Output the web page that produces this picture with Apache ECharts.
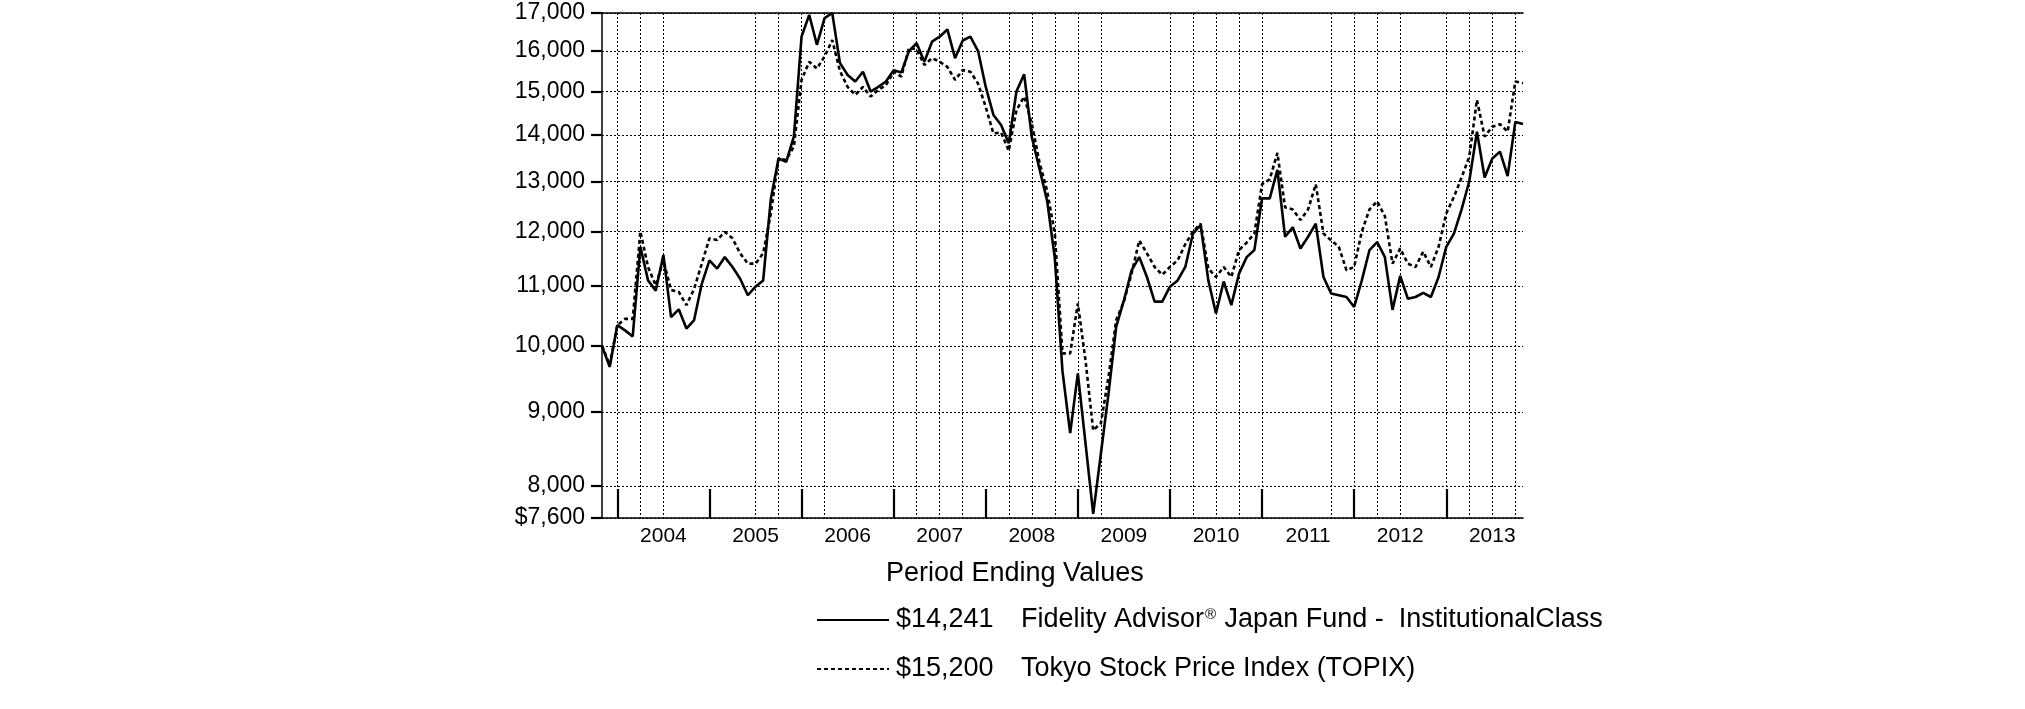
<!DOCTYPE html>
<html>
<head>
<meta charset="utf-8">
<script src="https://cdn.jsdelivr.net/npm/echarts@6/dist/echarts.min.js"></script>
<style>
html,body{margin:0;padding:0;background:#fff;}
#chart{width:2025px;height:709px;}
</style>
</head>
<body>
<div id="chart"></div>
<script>
// ---- data ----
const startYear = 2003, startMonth = 10, nMonths = 121; // Oct 2003 .. Oct 2013 month ends
const fundName = 'Fidelity Advisor® Japan Fund -  InstitutionalClass';
const indexName = 'Tokyo Stock Price Index (TOPIX)';
const fundValues = [
  10000, 9670, 10335, 10250, 10150, 11710, 11100, 10920, 11560, 10470, 10600, 10280,
  10420, 11040, 11460, 11310, 11520, 11340, 11130, 10840, 10990, 11100, 12640, 13480,
  13410, 13960, 16370, 16950, 16160, 16860, 17000, 15700, 15400, 15240, 15480, 15000,
  15110, 15240, 15520, 15460, 16000, 16200, 15730, 16240, 16370, 16560, 15820, 16270,
  16370, 16000, 15110, 14450, 14220, 13810, 15000, 15420, 13950, 13260, 12600, 11500,
  9600, 8700, 9570, 8560, 7650, 8420, 9270, 10310, 10750, 11280, 11520, 11160,
  10730, 10730, 10990, 11100, 11340, 11960, 12120, 11100, 10530, 11080, 10670, 11220,
  11520, 11650, 12650, 12650, 13240, 11900, 12080, 11680, 11900, 12150, 11160, 10870,
  10840, 10810, 10640, 11100, 11650, 11800, 11520, 10590, 11180, 10780, 10810, 10880,
  10810, 11160, 11710, 11960, 12430, 13000, 14070, 13080, 13480, 13630, 13110, 14290,
  14241
];
const indexValues = [
  10000, 9700, 10335, 10440, 10440, 12000, 11340, 11010, 11460, 10930, 10900, 10670,
  10950, 11400, 11870, 11840, 11990, 11870, 11590, 11400, 11400, 11590, 12350, 13480,
  13450, 13740, 15280, 15730, 15560, 15860, 16280, 15500, 15110, 14920, 15110, 14880,
  15040, 15150, 15480, 15360, 16080, 16040, 15650, 15820, 15730, 15600, 15280, 15520,
  15480, 15190, 14630, 14030, 14050, 13650, 14560, 14880, 14250, 13400, 12800, 11960,
  9880, 9880, 10700, 9770, 8740, 8840, 9520, 10420, 10730, 11220, 11830, 11590,
  11340, 11200, 11340, 11460, 11760, 12000, 12150, 11310, 11160, 11340, 11160, 11650,
  11790, 11960, 12940, 13040, 13600, 12470, 12430, 12220, 12430, 12940, 11960, 11830,
  11710, 11280, 11340, 12000, 12430, 12590, 12300, 11400, 11680, 11400, 11340, 11620,
  11340, 11710, 12350, 12680, 13080, 13520, 14800, 13960, 14180, 14240, 14070, 15240,
  15200
];
const yTicks = [7600, 8000, 9000, 10000, 11000, 12000, 13000, 14000, 15000, 16000, 17000];
const yearTickIdx = [2, 14, 26, 38, 50, 62, 74, 86, 98, 110];          // Dec of each year
const yearLabelIdx = [8, 20, 32, 44, 56, 68, 80, 92, 104, 116];        // mid-year label spots
const vGridIdx = [2, 5, 8, 20, 23, 26, 29, 38, 41, 44, 47, 53, 56, 59, 62, 65,
                  74, 77, 80, 83, 86, 95, 98, 101, 104, 110, 113, 116, 119];

const months = [];
for (let k = 0; k < nMonths; k++) {
  const m0 = startMonth - 1 + k;
  const y = startYear + Math.floor(m0 / 12);
  const m = (m0 % 12) + 1;
  months.push(y + '-' + String(m).padStart(2, '0'));
}

const fmt = v => Math.round(v).toLocaleString('en-US');
const FONT = '"Liberation Sans", Arial, sans-serif';

const chart = echarts.init(document.getElementById('chart'), null, {renderer: 'canvas'});
chart.setOption({
  animation: false,
  backgroundColor: '#ffffff',
  textStyle: {fontFamily: FONT, color: '#000'},
  grid: {left: 602, right: 502, top: 13, bottom: 191, containLabel: false},
  title: {
    text: 'Period Ending Values',
    left: 881, top: 555,
    textStyle: {fontSize: 27, fontWeight: 'normal', color: '#000', fontFamily: FONT}
  },
  legend: {
    orient: 'vertical',
    left: 811, top: 600,
    itemWidth: 72, itemHeight: 14, itemGap: 19,
    selectedMode: false,
    itemStyle: {opacity: 0},
    data: [fundName, indexName],
    formatter: function (name) {
      const arr = name === fundName ? fundValues : indexValues;
      const val = '$' + fmt(arr[arr.length - 1]);
      if (name === fundName) {
        return '{v|' + val + '}{n|Fidelity Advisor}{r|®}{n| Japan Fund -  InstitutionalClass}';
      }
      return '{v|' + val + '}{n|' + name + '}';
    },
    textStyle: {
      fontSize: 27, lineHeight: 30, color: '#000', fontFamily: FONT,
      rich: {
        v: {fontSize: 27, lineHeight: 30, color: '#000', fontFamily: FONT, padding: [0, 0, 0, 2], width: 125},
        n: {fontSize: 27, lineHeight: 30, color: '#000', fontFamily: FONT},
        r: {fontSize: 15, lineHeight: 30, color: '#000', fontFamily: FONT, verticalAlign: 'top', padding: [2, 1, 0, 1]}
      }
    }
  },
  xAxis: [{
    type: 'category',
    data: months,
    boundaryGap: false,
    axisLine: {show: true, lineStyle: {color: '#000', width: 1.5}},
    axisTick: {
      show: true, inside: true, length: 29,
      interval: (i) => yearTickIdx.indexOf(i) >= 0,
      lineStyle: {color: '#000', width: 2.2}
    },
    axisLabel: {
      show: true, margin: 8, fontSize: 21, color: '#000', fontFamily: FONT,
      interval: (i) => yearLabelIdx.indexOf(i) >= 0,
      formatter: (v) => v.slice(0, 4)
    },
    splitLine: {
      show: true,
      interval: (i) => vGridIdx.indexOf(i) >= 0,
      lineStyle: {color: '#000', width: 1, type: [2, 2]}
    }
  }, {
    type: 'category',
    data: months,
    position: 'top',
    boundaryGap: false,
    axisLine: {show: true, lineStyle: {color: '#000', width: 1.5}},
    axisTick: {show: false},
    axisLabel: {show: false},
    splitLine: {show: false}
  }],
  yAxis: {
    type: 'log',
    logBase: 10,
    min: 7600, max: 17000,
    axisLine: {show: true, lineStyle: {color: '#000', width: 1.5}},
    axisTick: {show: true, inside: false, length: 11, customValues: yTicks,
               lineStyle: {color: '#000', width: 2.2}},
    axisLabel: {
      show: true, margin: 17, fontSize: 23, color: '#000', fontFamily: FONT,
      customValues: yTicks,
      formatter: (v) => (Math.round(v) === 7600 ? '$' : '') + fmt(v)
    },
    splitLine: {show: true, lineStyle: {color: '#000', width: 1, type: [2, 2]}},
    minorTick: {show: false},
    minorSplitLine: {show: false}
  },
  series: [{
    name: fundName,
    type: 'line',
    data: fundValues,
    symbol: 'none',
    z: 4,
    lineStyle: {color: '#000', width: 2.6, type: 'solid'},
    itemStyle: {color: '#000'}
  }, {
    name: indexName,
    type: 'line',
    data: indexValues,
    symbol: 'none',
    z: 3,
    lineStyle: {color: '#000', width: 2.6, type: [4, 3]},
    itemStyle: {color: '#000'}
  }]
});
</script>
</body>
</html>
